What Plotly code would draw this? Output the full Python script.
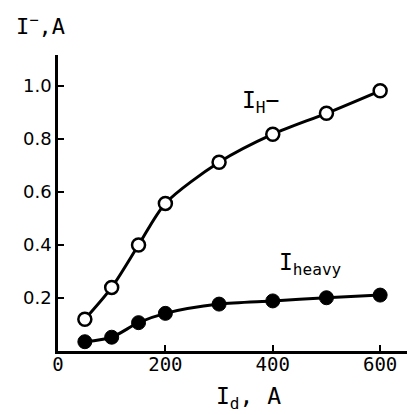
import plotly.graph_objects as go

# Data
id_hminus = [50, 100, 150, 200, 300, 400, 500, 600]
i_hminus = [0.12, 0.24, 0.40, 0.557, 0.712, 0.818, 0.897, 0.982]

id_heavy = [50, 100, 150, 200, 300, 400, 500, 600]
i_heavy = [0.035, 0.052, 0.107, 0.142, 0.177, 0.189, 0.201, 0.211]

x_ticks = [0, 200, 400, 600]
x_tick_labels = ["0", "200", "400", "600"]
y_ticks = [0.2, 0.4, 0.6, 0.8, 1.0]
y_tick_labels = ["0.2", "0.4", "0.6", "0.8", "1.0"]

FONT = "DejaVu Sans Mono"
TICKFONT = "DejaVu Sans"

fig = go.Figure()
fig.add_trace(go.Scatter(
    x=id_hminus, y=i_hminus, mode="lines+markers",
    line=dict(color="black", width=3, shape="spline", smoothing=0.8),
    marker=dict(symbol="circle", size=13, color="white",
                line=dict(color="black", width=2.5)),
    showlegend=False, cliponaxis=False,
))
fig.add_trace(go.Scatter(
    x=id_heavy, y=i_heavy, mode="lines+markers",
    line=dict(color="black", width=3, shape="spline", smoothing=0.8),
    marker=dict(symbol="circle", size=14, color="black",
                line=dict(color="black", width=1)),
    showlegend=False, cliponaxis=False,
))

fig.update_layout(
    width=407, height=415,
    margin=dict(l=58, r=0, t=55, b=64),
    paper_bgcolor="white", plot_bgcolor="white",
    font=dict(family=FONT, color="black", size=18),
    xaxis=dict(
        range=[0, 650], showgrid=False, zeroline=False,
        showline=True, linecolor="black", linewidth=2.5,
        ticks="inside", ticklen=6, tickwidth=2, tickcolor="black",
        tickvals=x_ticks, ticktext=x_tick_labels,
        tickfont=dict(size=19, family=FONT),
        ticklabelstandoff=-6,
    ),
    yaxis=dict(
        range=[0, 1.117], showgrid=False, zeroline=False,
        showline=True, linecolor="black", linewidth=2.5,
        ticks="inside", ticklen=6, tickwidth=2, tickcolor="black",
        tickvals=y_ticks, ticktext=y_tick_labels,
        tickfont=dict(size=18, family=TICKFONT),
    ),
    annotations=[
        dict(text="I<sup>−</sup>,A", xref="paper", yref="paper",
             x=-0.125, y=1.10, xanchor="left", yanchor="middle",
             showarrow=False, font=dict(size=22, family=FONT)),
        dict(text="I<sub>H</sub>−", xref="x", yref="y",
             x=377, y=0.94, xanchor="center", yanchor="middle",
             showarrow=False, font=dict(size=23, family=FONT)),
        dict(text="I<sub>heavy</sub>", xref="x", yref="y",
             x=470, y=0.33, xanchor="center", yanchor="middle",
             showarrow=False, font=dict(size=23, family=FONT)),
        dict(text="I<sub>d</sub>, A", xref="paper", yref="paper",
             x=0.545, y=-0.16, xanchor="center", yanchor="middle",
             showarrow=False, font=dict(size=23, family=FONT)),
    ],
)

fig.write_html("out.html")
